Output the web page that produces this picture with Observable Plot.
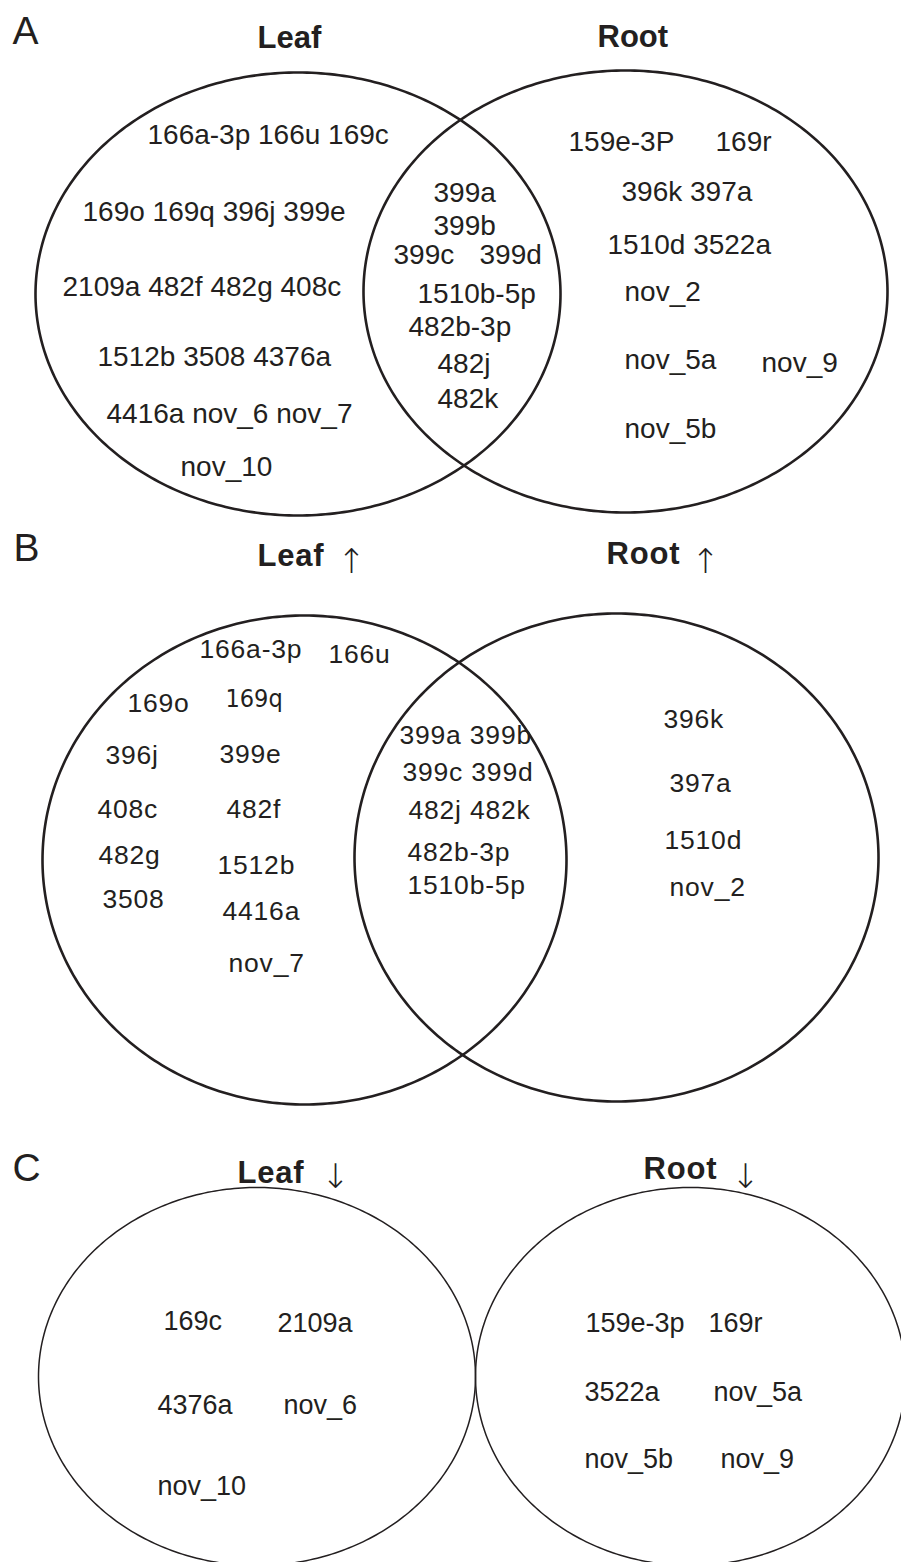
<!DOCTYPE html>
<html>
<head>
<meta charset="utf-8">
<script src="https://cdn.jsdelivr.net/npm/d3@7"></script>
<script src="https://cdn.jsdelivr.net/npm/@observablehq/plot@0.6"></script>
<style>
  body { margin: 0; background: #fff; }
  #chart svg { display: block; }
</style>
</head>
<body>
<div id="chart"></div>
<script>
// ---------------- DATA (set names and miRNA members per Venn region) ----------------
const panelLetters = ["A", "B", "C"];
const setNames = ["Leaf", "Root"];
const directionArrows = ["", "↑", "↓"]; // A: all, B: up-regulated, C: down-regulated

// Panel A: all differentially expressed miRNAs
const leafOnlyA = ["166a-3p","166u","169c","169o","169q","396j","399e","2109a","482f","482g","408c",
                   "1512b","3508","4376a","4416a","nov_6","nov_7","nov_10"];
const sharedA   = ["399a","399b","399c","399d","1510b-5p","482b-3p","482j","482k"];
const rootOnlyA = ["159e-3P","169r","396k","397a","1510d","3522a","nov_2","nov_5a","nov_9","nov_5b"];

// Panel B: up-regulated
const leafOnlyB = ["166a-3p","166u","169o","169q","396j","399e","408c","482f","482g","1512b","3508","4416a","nov_7"];
const sharedB   = ["399a","399b","399c","399d","482j","482k","482b-3p","1510b-5p"];
const rootOnlyB = ["396k","397a","1510d","nov_2"];

// Panel C: down-regulated
const leafOnlyC = ["169c","2109a","4376a","nov_6","nov_10"];
const rootOnlyC = ["159e-3p","169r","3522a","nov_5a","nov_5b","nov_9"];

// ---------------- LAYOUT (positions in the 901 x 1562 drawing space) ----------------
// rows: [left x, baseline y, number of names on that row]
const rowsLeafA  = [[147,143,3],[82,220,4],[62,295,4],[97,365,3],[106,422,3],[180,475,1]];
const rowsSharedA = [[433,201,1],[433,234,1],[393,263,1],[479,263,1],[417,302,1],[408,335,1],[437,372,1],[437,407,1]];
const rowsRootA  = [[568,150,1],[715,150,1],[621,200,2],[607,253,2],[624,300,1],[624,368,1],[761,371,1],[624,437,1]];

const rowsLeafB  = [[199,657,1],[328,662,1],[127,711,1],[225,706,1],[105,763,1],[219,762,1],[97,817,1],[226,817,1],
                    [98,863,1],[217,873,1],[102,907,1],[222,919,1],[228,971,1]];
const rowsSharedB = [[399,743,2],[402,780,2],[408,818,2],[407,860,1],[407,893,1]];
const rowsRootB  = [[663,727,1],[669,791,1],[664,848,1],[669,895,1]];

const rowsLeafC  = [[163,1329,1],[277,1331,1],[157,1413,1],[283,1413,1],[157,1494,1]];
const rowsRootC  = [[585,1331,1],[708,1331,1],[584,1400,1],[713,1400,1],[584,1467,1],[720,1467,1]];

// ellipses: centre and radii for Leaf and Root in each panel
const ellipseLayout = [
  {panel:"A", set:"Leaf", cx:297.5, cy:293.5, rx:262.5, ry:221.5},
  {panel:"A", set:"Root", cx:625,   cy:291,   rx:262,   ry:221},
  {panel:"B", set:"Leaf", cx:304,   cy:859.5, rx:262,   ry:244.5},
  {panel:"B", set:"Root", cx:616,   cy:857,   rx:262,   ry:244},
  {panel:"C", set:"Leaf", cx:256.5, cy:1376,  rx:218.5, ry:189},
  {panel:"C", set:"Root", cx:690,   cy:1376,  rx:215,   ry:189}
];
const letterPos = [[12,43],[13,560],[12,1180]];
const titlePos = [ // [leaf x, leaf y, root x, root y]
  [257,47,597,46],[257,565,606,563],[237,1182,643,1178]
];
const arrowPos = [ // [leaf arrow cx, root arrow cx, bottom y]
  null, [351,705,572], [335,745,1187]
];

// ---------------- BUILD ----------------
const ink = "#231f20";
const font = "'Liberation Sans', Arial, Helvetica, sans-serif";

function rowsToText(names, rows) {
  let i = 0;
  return rows.map(([x, y, n]) => {
    const t = names.slice(i, i + n).join(" ");
    i += n;
    return {x, y, t};
  });
}

const labelsA = [...rowsToText(leafOnlyA, rowsLeafA), ...rowsToText(sharedA, rowsSharedA), ...rowsToText(rootOnlyA, rowsRootA)];
const labelsBall = [...rowsToText(leafOnlyB, rowsLeafB), ...rowsToText(sharedB, rowsSharedB), ...rowsToText(rootOnlyB, rowsRootB)];
const labelsB = labelsBall.filter(d => d.t !== "169q");
const labelsBnarrow = labelsBall.filter(d => d.t === "169q");
const labelsC = [...rowsToText(leafOnlyC, rowsLeafC), ...rowsToText(rootOnlyC, rowsRootC)];

const letters = panelLetters.map((p, i) => ({x: letterPos[i][0], y: letterPos[i][1], t: p}));
const titles = panelLetters.flatMap((p, i) => [
  {panel: p, x: titlePos[i][0], y: titlePos[i][1], t: setNames[0]},
  {panel: p, x: titlePos[i][2], y: titlePos[i][3], t: setNames[1]}
]);
const arrows = panelLetters.flatMap((p, i) => directionArrows[i] ? [
  {x: arrowPos[i][0], y: arrowPos[i][2], t: directionArrows[i]},
  {x: arrowPos[i][1], y: arrowPos[i][2], t: directionArrows[i]}
] : []);

function outline(list) {
  return list.flatMap(e => d3.range(0, 360, 1).map(a => ({
    id: e.panel + e.set,
    x: e.cx + e.rx * Math.cos(a * Math.PI / 180),
    y: e.cy + e.ry * Math.sin(a * Math.PI / 180)
  })));
}
const thick = outline(ellipseLayout.filter(e => e.panel !== "C"));
const thin = outline(ellipseLayout.filter(e => e.panel === "C"));

const common = {x: "x", y: "y", text: "t", textAnchor: "start", lineAnchor: "bottom", fill: ink, fontFamily: font};

const svg = Plot.plot({
  width: 901,
  height: 1562,
  margin: 0,
  x: {domain: [0, 901], range: [0, 901], axis: null},
  y: {domain: [0, 1562], range: [0, 1562], axis: null},
  style: {background: "#fff"},
  marks: [
    Plot.line(thick, {x: "x", y: "y", z: "id", curve: "linear-closed", stroke: ink, strokeWidth: 2.6}),
    Plot.line(thin, {x: "x", y: "y", z: "id", curve: "linear-closed", stroke: ink, strokeWidth: 1.5}),
    Plot.text(letters, {...common, fontSize: 39}),
    Plot.text(titles.filter(d => d.panel === "A"), {...common, fontSize: 31, fontWeight: "bold"}),
    Plot.text(titles.filter(d => d.panel !== "A"), {...common, fontSize: 31, fontWeight: "bold", ariaDescription: "wide-title"}),
    Plot.text(arrows, {...common, textAnchor: "middle", fontSize: 34, fontWeight: 200, fontFamily: "'DejaVu Sans', sans-serif"}),
    Plot.text(labelsA, {...common, fontSize: 28}),
    Plot.text(labelsB, {...common, fontSize: 26.5, ariaDescription: "wide-label"}),
    Plot.text(labelsBnarrow, {...common, fontSize: 25, fontFamily: "'Liberation Sans Narrow', 'DejaVu Sans Condensed', " + font}),
    Plot.text(labelsC, {...common, fontSize: 27})
  ]
});
svg.querySelectorAll('[aria-description="wide-label"] text').forEach(t => t.setAttribute("letter-spacing", "0.8"));
svg.querySelectorAll('[aria-description="wide-title"] text').forEach(t => t.setAttribute("letter-spacing", "0.8"));
document.getElementById("chart").appendChild(svg);
</script>
</body>
</html>
